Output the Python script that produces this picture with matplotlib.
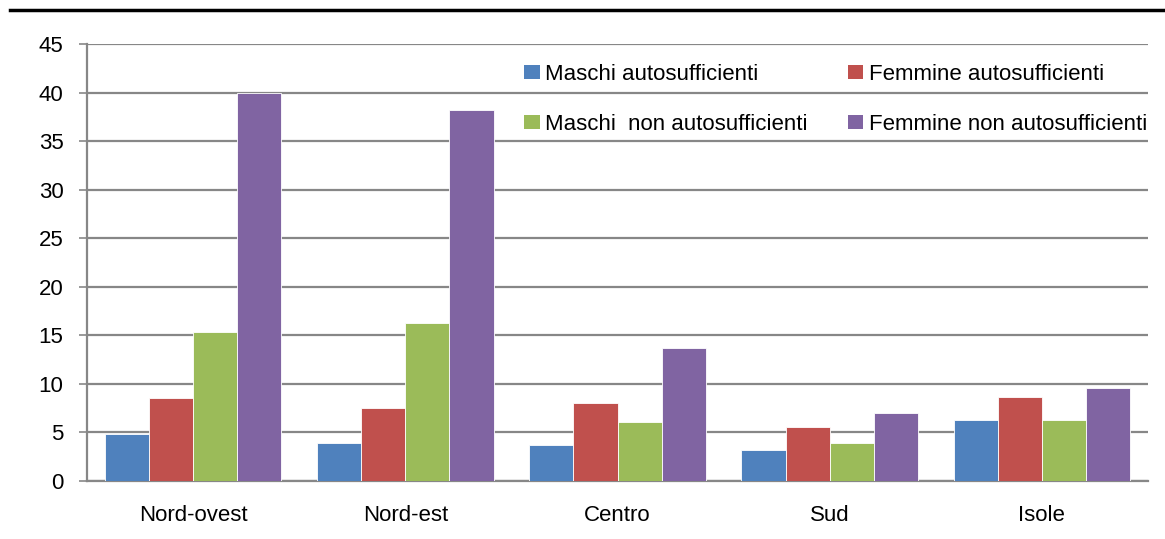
import numpy as np
import matplotlib
matplotlib.use("Agg")
import matplotlib.pyplot as plt
from matplotlib.lines import Line2D
from matplotlib.patches import Patch

# Data
regioni = ["Nord-ovest", "Nord-est", "Centro", "Sud", "Isole"]
serie = ["Maschi autosufficienti", "Femmine autosufficienti",
         "Maschi  non autosufficienti", "Femmine non autosufficienti"]
maschi_auto = [4.8, 3.9, 3.7, 3.2, 6.3]
femmine_auto = [8.5, 7.5, 8.0, 5.6, 8.7]
maschi_non = [15.3, 16.3, 6.1, 3.9, 6.3]
femmine_non = [40.0, 38.2, 13.7, 7.0, 9.6]
yticks = [0, 5, 10, 15, 20, 25, 30, 35, 40, 45]

colori = ["#4F81BD", "#C0504D", "#9BBB59", "#8064A2"]
valori = [maschi_auto, femmine_auto, maschi_non, femmine_non]

plt.rcParams["font.family"] = ["Liberation Sans", "DejaVu Sans"]

fig = plt.figure(figsize=(11.65, 5.39), dpi=100)
ax = fig.add_axes([87 / 1165, 1 - 481 / 539, (1148 - 87) / 1165, (481 - 44) / 539])

x = np.arange(len(regioni))
w = 0.208
for i, (vals, col) in enumerate(zip(valori, colori)):
    ax.bar(x + (i - 1.5) * w, vals, width=w, color=col,
           edgecolor="#FFFFFF", linewidth=0.6, zorder=3)

ax.set_xlim(-0.5, len(regioni) - 0.5)
ax.set_ylim(0, 45)
ax.set_yticks(yticks)
ax.set_yticklabels([str(t) for t in yticks], fontsize=16)
ax.set_xticks(x)
ax.set_xticklabels(regioni, fontsize=16)
ax.yaxis.grid(True, color="#878787", linewidth=1.6, zorder=0)
ax.tick_params(axis="y", direction="out", length=6, width=1.2, color="#878787", pad=11)
ax.tick_params(axis="x", length=0, pad=17)

for s in ["top", "right"]:
    ax.spines[s].set_visible(False)
for s in ["left", "bottom"]:
    ax.spines[s].set_color("#878787")
    ax.spines[s].set_linewidth(1.6)

# legenda riga per riga (matplotlib riempie per colonne)
ordine = [0, 2, 1, 3]
handles = [Patch(facecolor=colori[k], edgecolor="none") for k in ordine]
labels = [serie[k] for k in ordine]
fig.legend(handles, labels, ncol=2, frameon=False, fontsize=16,
           loc="upper left", bbox_to_anchor=(524 / 1165, 1 - 64 / 539),
           handlelength=0.7, handleheight=0.6, handletextpad=0.25,
           columnspacing=1.8, labelspacing=1.3, borderaxespad=0, borderpad=0)

# linea nera in alto
fig.add_artist(Line2D([10 / 1165, 1.0], [1 - 10 / 539, 1 - 10 / 539],
                      color="black", linewidth=2.5))

fig.savefig("out.png", dpi=100)
